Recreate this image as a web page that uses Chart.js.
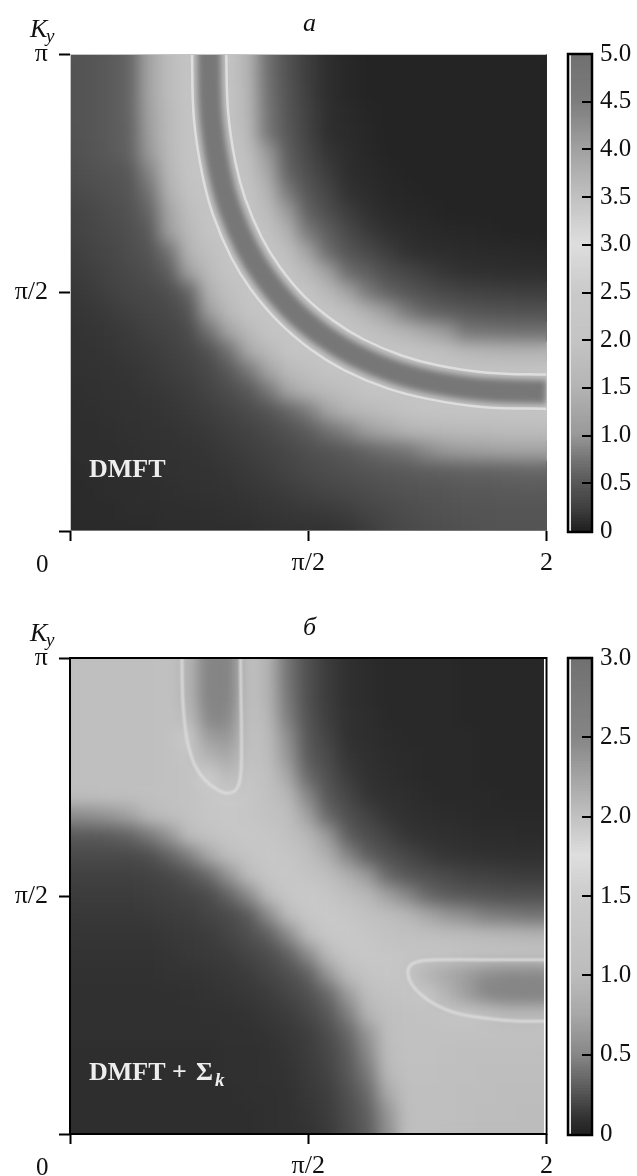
<!DOCTYPE html>
<html>
<head>
<meta charset="utf-8">
<script src="https://cdn.jsdelivr.net/npm/chart.js@4/dist/chart.umd.min.js"></script>
<style>
    body { margin: 0; background: #fff; }
    canvas { position: absolute; }
</style>
</head>
<body>
<canvas id="heatA" style="left:0;top:0" width="560" height="600"></canvas>
<canvas id="barA" style="left:560px;top:0" width="77" height="600"></canvas>
<canvas id="heatB" style="left:0;top:600px" width="560" height="576"></canvas>
<canvas id="barB" style="left:560px;top:600px" width="77" height="576"></canvas>
<script>
// colour scales (value -> grey level)
const scaleValuesA = [0, 0.1, 0.25, 0.5, 0.75, 1, 1.5, 2, 2.5, 3, 3.5, 4, 4.5, 5];
const scaleGreysA = [32, 46, 66, 88, 118, 153, 180, 196, 202, 222, 192, 160, 124, 112];
const scaleValuesB = [0, 0.1, 0.25, 0.5, 0.75, 1, 1.5, 1.75, 2, 2.5, 3];
const scaleGreysB = [34, 51, 85, 136, 168, 188, 204, 222, 192, 133, 112];

const xTickLabels = ['', 'π/2', '2'];
const yTickLabels = ['', 'π/2', 'π'];
const barTicksA = ['0', '0.5', '1.0', '1.5', '2.0', '2.5', '3.0', '3.5', '4.0', '4.5', '5.0'];
const barTicksB = ['0', '0.5', '1.0', '1.5', '2.0', '2.5', '3.0'];

// spectral weight, rows from Ky = π down to Ky = 0, columns Kx = 0 to the right edge
const weightA = [
    [.44,.47,.52,.6,1.2,1.75,2,2,2,1.5,.7,.43,.22,.1,.06,.03,.03,.03,.03,.03,.03,.03,.03,.03,.03],
    [.44,.47,.52,.6,1.2,1.75,2,2,2,1.5,.7,.43,.22,.1,.06,.03,.03,.03,.03,.03,.03,.03,.03,.03,.03],
    [.44,.47,.52,.6,1.2,1.75,2,2,2,1.55,.72,.45,.23,.1,.06,.03,.03,.03,.03,.03,.03,.03,.03,.03,.03],
    [.44,.47,.52,.6,1.15,1.7,2,2,2,1.6,.75,.47,.25,.11,.07,.04,.03,.03,.03,.03,.03,.03,.03,.03,.03],
    [.43,.47,.52,.58,1.1,1.7,2,2,2,1.7,.75,.5,.26,.11,.08,.05,.03,.03,.03,.03,.03,.03,.03,.03,.03],
    [.41,.46,.51,.58,1,1.65,2,2,2,1.85,1,.54,.32,.15,.09,.06,.03,.03,.03,.03,.03,.03,.03,.03,.03],
    [.38,.42,.46,.5,.85,1.6,2,2,2,1.95,1.25,.6,.39,.21,.1,.07,.05,.03,.03,.03,.03,.03,.03,.03,.03],
    [.33,.37,.42,.47,.72,1.45,1.95,2,2,2,1.5,.78,.48,.29,.13,.09,.06,.04,.03,.03,.03,.03,.03,.03,.03],
    [.27,.31,.37,.43,.6,1.2,1.8,2,2,2,1.75,1.05,.58,.39,.22,.12,.08,.06,.05,.03,.03,.03,.03,.03,.03],
    [.25,.29,.34,.4,.52,1.1,1.65,2,2,2,1.95,1.45,.78,.55,.34,.2,.12,.09,.07,.06,.05,.04,.03,.03,.03],
    [.22,.26,.31,.38,.46,.72,1.5,1.85,2,2,2,1.8,1.2,.67,.48,.34,.22,.13,.1,.09,.08,.07,.07,.06,.06],
    [.2,.23,.27,.33,.4,.55,1.15,1.7,2,2,2,2,1.65,1.15,.67,.55,.39,.29,.21,.15,.12,.11,.1,.1,.1],
    [.17,.2,.24,.29,.33,.4,.6,1.45,1.85,2,2,2,2,1.65,1.2,.78,.58,.48,.39,.32,.26,.24,.23,.22,.22],
    [.15,.17,.2,.24,.28,.33,.45,1.1,1.65,2,2,2,2,2,1.85,1.45,1.05,.78,.6,.54,.5,.46,.44,.43,.43],
    [.14,.15,.17,.2,.24,.27,.35,.7,1.2,1.65,2,2,2,2,2,1.95,1.75,1.5,1.25,1,.75,.73,.71,.7,.7],
    [.13,.14,.15,.18,.2,.24,.3,.42,.7,1.3,1.65,2,2,2,2,2,2,2,1.95,1.85,1.65,1.55,1.5,1.5,1.5],
    [.12,.13,.14,.15,.18,.21,.25,.33,.5,.75,1.2,1.65,1.85,2,2,2,2,2,2,2,2,2,2,2,2],
    [.11,.12,.13,.14,.16,.18,.21,.27,.36,.5,.75,1.2,1.5,1.7,1.85,2,2,2,2,2,2,2,2,2,2],
    [.1,.11,.12,.13,.14,.16,.18,.22,.27,.35,.46,.6,.8,1.2,1.5,1.65,1.8,1.95,2,2,2,2,2,2,2],
    [.1,.1,.11,.12,.13,.14,.16,.18,.22,.26,.33,.42,.53,.7,.85,1.1,1.3,1.5,1.6,1.65,1.7,1.7,1.75,1.75,1.75],
    [.09,.1,.1,.11,.12,.13,.14,.16,.19,.22,.26,.32,.4,.46,.52,.6,.68,.75,.9,1,1.1,1.15,1.2,1.2,1.2],
    [.08,.09,.09,.1,.11,.12,.13,.14,.16,.19,.22,.27,.33,.38,.42,.46,.5,.52,.55,.56,.58,.58,.6,.62,.62],
    [.08,.08,.09,.09,.1,.11,.12,.13,.14,.16,.18,.21,.25,.29,.33,.37,.41,.44,.46,.48,.5,.5,.52,.52,.52],
    [.07,.08,.08,.09,.09,.1,.1,.11,.12,.13,.15,.17,.18,.2,.23,.28,.33,.38,.41,.43,.45,.46,.47,.47,.47],
    [.07,.07,.08,.08,.08,.09,.09,.1,.1,.11,.12,.13,.13,.13,.15,.21,.28,.33,.37,.4,.42,.44,.46,.46,.46]
];
const weightB = [
    [1.1,1.1,1.1,1.1,1.1,1.15,2.1,2.5,2.55,1.15,.9,.4,.23,.14,.08,.06,.04,.04,.04,.04,.03,.03,.03,.03,.03],
    [1.1,1.1,1.1,1.1,1.1,1.15,2.1,2.5,2.55,1.15,.9,.4,.23,.14,.08,.06,.04,.04,.04,.04,.03,.03,.03,.03,.03],
    [1.1,1.1,1.1,1.1,1.1,1.15,2.1,2.5,2.55,1.15,.9,.42,.23,.14,.08,.06,.04,.04,.04,.04,.03,.03,.03,.03,.03],
    [1.1,1.1,1.1,1.1,1.1,1.15,2.05,2.42,2.45,1.15,.95,.45,.24,.15,.09,.07,.04,.04,.04,.04,.03,.03,.03,.03,.03],
    [1.1,1.1,1.1,1.1,1.1,1.15,1.4,2.3,2.35,1.15,1,.55,.26,.17,.09,.07,.05,.04,.04,.04,.04,.03,.03,.03,.03],
    [1.1,1.1,1.1,1.1,1.1,1.15,1.25,2.1,2.2,1.2,1.05,.62,.28,.2,.11,.08,.06,.05,.04,.04,.04,.03,.03,.03,.03],
    [1.08,1.08,1.08,1.1,1.1,1.15,1.2,1.5,2.05,1.25,1.12,.75,.35,.23,.14,.09,.07,.05,.04,.04,.04,.03,.03,.03,.03],
    [1.05,1.05,1.08,1.1,1.12,1.15,1.2,1.3,1.4,1.3,1.15,.95,.5,.26,.19,.11,.08,.07,.05,.04,.04,.04,.03,.03,.03],
    [.52,.55,.6,.7,.95,1.1,1.2,1.3,1.35,1.3,1.2,1.1,.7,.35,.23,.17,.11,.08,.07,.06,.05,.04,.04,.04,.04],
    [.27,.27,.28,.32,.42,.6,1,1.2,1.3,1.35,1.3,1.15,.95,.65,.3,.22,.17,.11,.09,.08,.07,.06,.06,.05,.05],
    [.2,.2,.2,.2,.22,.32,.45,.75,1.05,1.25,1.35,1.3,1.1,.85,.5,.3,.23,.19,.14,.11,.1,.09,.08,.08,.08],
    [.16,.16,.16,.16,.17,.19,.24,.35,.6,1,1.3,1.35,1.25,1.1,.85,.65,.35,.26,.23,.2,.17,.16,.15,.14,.14],
    [.14,.14,.14,.14,.15,.16,.18,.2,.32,.52,1,1.3,1.4,1.3,1.1,.95,.7,.5,.35,.28,.26,.24,.23,.23,.23],
    [.12,.12,.12,.12,.13,.14,.15,.18,.2,.27,.52,1,1.35,1.4,1.3,1.15,1.05,.95,.75,.62,.55,.45,.43,.4,.4],
    [.11,.11,.11,.11,.11,.12,.13,.14,.18,.22,.3,.52,1,1.35,1.4,1.3,1.2,1.15,1.12,1.05,1,.97,.95,.92,.9],
    [.1,.1,.1,.1,.1,.11,.12,.13,.14,.18,.21,.3,.52,.98,1.3,1.35,1.3,1.25,1.25,1.25,1.2,1.2,1.2,1.2,1.2],
    [.09,.09,.09,.09,.09,.1,.1,.11,.12,.14,.18,.22,.3,.6,1,1.25,1.3,1.25,2.1,2.2,2.3,2.4,2.45,2.45,2.45],
    [.08,.08,.08,.08,.08,.08,.09,.1,.11,.12,.14,.18,.23,.34,.65,1.05,1.2,1.25,1.3,2.1,2.3,2.4,2.5,2.5,2.5],
    [.08,.08,.08,.08,.08,.08,.08,.09,.09,.1,.12,.14,.19,.26,.45,.9,1.1,1.15,1.2,1.25,1.95,2,2.05,2.05,2.05],
    [.08,.08,.08,.08,.08,.08,.08,.08,.09,.09,.1,.12,.15,.21,.33,.6,1.05,1.15,1.15,1.15,1.15,1.15,1.15,1.15,1.15],
    [.07,.07,.07,.07,.07,.07,.07,.07,.08,.08,.09,.11,.14,.19,.28,.5,1,1.15,1.15,1.12,1.1,1.1,1.08,1.08,1.05],
    [.07,.07,.07,.07,.07,.07,.07,.07,.08,.08,.09,.1,.13,.17,.26,.42,.95,1.12,1.12,1.1,1.08,1.05,1.05,1.05,1.05],
    [.07,.07,.07,.07,.07,.07,.07,.07,.07,.08,.08,.09,.12,.15,.23,.35,.75,1.1,1.1,1.08,1.05,1.05,1.02,1.02,1.02],
    [.07,.07,.07,.07,.07,.07,.07,.07,.07,.07,.08,.09,.11,.14,.21,.3,.6,1.05,1.1,1.08,1.05,1.02,1.02,1,1],
    [.07,.07,.07,.07,.07,.07,.07,.07,.07,.07,.08,.09,.1,.13,.2,.28,.55,1.05,1.08,1.05,1.02,1,1,1,1]
];

// ridges, in fractions of the axis range
const bandKx = [.292,.292,.296,.312,.334,.370,.410,.465,.530,.595,.679,.762,.870,1,1.04];
const bandKy = [1.04,1,.870,.762,.679,.595,.530,.465,.410,.370,.334,.312,.296,.292,.292];
const innerKx = [.328,.328,.332,.347,.368,.402,.440,.492,.554,.616,.696,.774,.877,1,1.04];
const innerKy = [1.04,1,.877,.774,.696,.616,.554,.492,.440,.402,.368,.347,.332,.328,.328];
const outerKx = [.256,.256,.260,.277,.300,.338,.380,.438,.506,.574,.663,.750,.864,1,1.04];
const outerKy = [1.04,1,.864,.750,.663,.574,.506,.438,.380,.338,.300,.277,.260,.256,.256];
const pocketTopKx = [.235,.235,.236,.239,.247,.262,.283,.310,.331,.350,.358,.360,.359,.358,.358];
const pocketTopKy = [1.04,1,.933,.880,.821,.775,.744,.723,.716,.725,.754,.817,.910,1,1.04];
const pocketRightKx = [1.04,1,.901,.776,.734,.715,.709,.717,.738,.765,.811,.881,.943,1,1.04];
const pocketRightKy = [.366,.366,.366,.366,.363,.355,.338,.315,.292,.273,.254,.242,.237,.237,.237];
const coreTopKx = [.307,.307,.308];
const coreTopKy = [1.04,.94,.86];
const coreRightKx = [1.04,.94,.86];
const coreRightKy = [.307,.307,.308];

function greyOf(value, values, greys) {
    let i = 1;
    while (i < values.length - 1 && value > values[i]) i++;
    let t = Math.min(1, Math.max(0, (value - values[i - 1]) / (values[i] - values[i - 1])));
    let g = Math.round(greys[i - 1] + t * (greys[i] - greys[i - 1]));
    return `rgb(${g},${g},${g})`;
}

// blurs the drawn cells into a smooth surface, softens the ridge lines
const softLayer = {
    id: 'softLayer',
    beforeDatasetDraw(chart, args) {
        let soft = chart.data.datasets[args.index].lineSoft;
        if (soft) chart.ctx.filter = `blur(${soft}px)`;
    },
    afterDatasetDraw(chart, args) {
        let ctx = chart.ctx;
        let area = chart.chartArea;
        ctx.filter = 'none';
        if (!chart.data.datasets[args.index].cellSoft) return;
        ctx.save();
        ctx.beginPath();
        ctx.rect(area.left, area.top, area.right - area.left, area.bottom - area.top);
        ctx.clip();
        ctx.filter = `blur(${chart.data.datasets[args.index].cellSoft}px)`;
        ctx.drawImage(chart.canvas, 0, 0, chart.width, chart.height);
        ctx.restore();
        ctx.clearRect(0, 0, chart.width, area.top);
        ctx.clearRect(0, area.bottom, chart.width, chart.height - area.bottom);
        ctx.clearRect(0, 0, area.left, chart.height);
        ctx.clearRect(area.right, 0, chart.width - area.right, chart.height);
    }
};

// frame round the plot and the free text
const notes = {
    id: 'notes',
    afterDraw(chart, args, opts) {
        let ctx = chart.ctx;
        let a = chart.chartArea;
        ctx.save();
        if (opts.black) {
            ctx.strokeStyle = '#000';
            ctx.lineWidth = 2;
            ctx.strokeRect(a.left, a.top, a.right - a.left, a.bottom - a.top);
            ctx.fillStyle = '#fff';
            ctx.fillRect(a.right - 2.5, a.top + 1, 1.5, a.bottom - a.top - 2);
        } else {
            ctx.fillStyle = '#c4c4c4';
            ctx.fillRect(a.left, a.top, a.right - a.left, 1);
            ctx.fillRect(a.left, a.top, 1, a.bottom - a.top);
            ctx.fillStyle = '#777';
            ctx.fillRect(a.left, a.bottom - 1, a.right - a.left, 1);
        }
        ctx.textBaseline = 'alphabetic';
        opts.texts.forEach(t => {
            ctx.font = t[3];
            ctx.fillStyle = t[4] || '#111';
            ctx.fillText(t[0], t[1], t[2]);
        });
        ctx.restore();
    }
};

// inward tick marks and frame of a colour bar
const barFrame = {
    id: 'barFrame',
    afterDatasetsDraw(chart) {
        let ctx = chart.ctx;
        let a = chart.chartArea;
        let y = chart.scales.y;
        ctx.save();
        ctx.fillStyle = '#e6e6e6';
        ctx.fillRect(a.left, a.top, 2, a.bottom - a.top);
        ctx.fillStyle = '#000';
        y.ticks.forEach(t => {
            if (t.value > y.min && t.value < y.max) {
                ctx.fillRect(a.right - 9, Math.round(y.getPixelForValue(t.value)) - 1, 9, 2);
            }
        });
        ctx.strokeStyle = '#000';
        ctx.lineWidth = 2.5;
        ctx.strokeRect(a.left - 1, a.top, a.right - a.left + 2, a.bottom - a.top + 1);
        ctx.restore();
    }
};

function ridge(xs, ys, value, values, greys, width, soft, order) {
    return {
        data: xs.map((x, i) => ({ x: x, y: ys[i] })),
        showLine: true,
        tension: 0.4,
        pointRadius: 0,
        borderColor: greyOf(value, values, greys),
        borderWidth: width,
        lineSoft: soft,
        order: order
    };
}

function heatChart(id, top, bottomPad, weights, values, greys, lines, opts) {
    let cells = [];
    let colours = [];
    weights.forEach((row, r) => row.forEach((v, c) => {
        cells.push({ x: c / (row.length - 1), y: 1 - r / (weights.length - 1) });
        colours.push(greyOf(v, values, greys));
    }));
    let serif = { family: '"Liberation Serif"', size: 26 };
    return new Chart(document.getElementById(id), {
        type: 'scatter',
        plugins: [softLayer, notes],
        data: {
            datasets: lines.concat([{
                data: cells,
                pointStyle: 'rect',
                pointRadius: 15,
                pointBorderWidth: 0,
                pointBackgroundColor: colours,
                clip: false,
                cellSoft: 8,
                order: 9
            }])
        },
        options: {
            responsive: false,
            animation: false,
            events: [],
            layout: { autoPadding: false, padding: { top: top, right: 13, bottom: 0, left: 0 } },
            plugins: { legend: { display: false }, tooltip: { enabled: false }, notes: opts },
            scales: {
                x: {
                    type: 'linear', min: 0, max: 1,
                    afterFit: s => { s.height = bottomPad; },
                    border: { display: false },
                    grid: { z: 1, drawOnChartArea: false, color: '#000', tickColor: '#000', tickLength: 10, tickWidth: 2 },
                    ticks: { z: 1, stepSize: 0.5, maxRotation: 0, padding: 7, color: '#111', font: serif,
                        callback: (v, i) => xTickLabels[i] }
                },
                y: {
                    type: 'linear', min: 0, max: 1,
                    afterFit: s => { s.width = 70; },
                    border: { display: false },
                    grid: { z: 1, drawOnChartArea: false, color: '#000', tickColor: '#000', tickLength: 11, tickWidth: 2 },
                    ticks: { z: 1, stepSize: 0.5, padding: 11, color: '#111', font: serif,
                        callback: (v, i) => yTickLabels[i] }
                }
            }
        }
    });
}

function barChart(id, top, bottomPad, max, step, labels, values, greys) {
    let levels = 160;
    let sets = [];
    for (let i = 0; i < levels; i++) {
        let lo = max * i / levels;
        let hi = max * (i + 1.3) / levels;
        sets.push({
            data: [[lo, Math.min(hi, max)]],
            backgroundColor: greyOf(max * (i + 0.5) / levels, values, greys),
            barPercentage: 1,
            categoryPercentage: 1,
            grouped: false
        });
    }
    return new Chart(document.getElementById(id), {
        type: 'bar',
        plugins: [barFrame],
        data: { labels: ['w'], datasets: sets },
        options: {
            responsive: false,
            animation: false,
            events: [],
            layout: { padding: { top: top, right: 0, bottom: bottomPad, left: 9 } },
            plugins: { legend: { display: false }, tooltip: { enabled: false } },
            scales: {
                x: { display: false },
                y: {
                    position: 'right', min: 0, max: max,
                    afterFit: s => { s.width = 46; },
                    border: { display: false },
                    grid: { display: false, drawTicks: false },
                    ticks: { stepSize: step, padding: 9, color: '#111', autoSkip: false,
                        font: { family: '"Liberation Serif"', size: 25 },
                        callback: (v, i) => labels[i] }
                }
            }
        }
    });
}

const italic = 'italic 26px "Liberation Serif"';
const subY = 'italic 19px "Liberation Serif"';
const tick = '25px "Liberation Serif"';
const boldW = 'bold 26px "Liberation Serif"';

heatChart('heatA', 54, 69, weightA, scaleValuesA, scaleGreysA, [
    ridge(innerKx, innerKy, 3, scaleValuesA, scaleGreysA, 2.5, 0.6, 1),
    ridge(outerKx, outerKy, 3, scaleValuesA, scaleGreysA, 2.5, 0.6, 1),
    ridge(bandKx, bandKy, 4.7, scaleValuesA, scaleGreysA, 24, 3, 2)
], {
    black: false,
    texts: [
        ['K', 30, 37, italic], ['y', 46, 42, subY],
        ['а', 303, 31, italic],
        ['0', 36, 572, tick],
        ['DMFT', 89, 477, boldW, '#eee']
    ]
});
barChart('barA', 54, 69, 5, 0.5, barTicksA, scaleValuesA, scaleGreysA);

heatChart('heatB', 58, 42, weightB, scaleValuesB, scaleGreysB, [
    ridge(pocketTopKx, pocketTopKy, 1.75, scaleValuesB, scaleGreysB, 2.5, 0.8, 1),
    ridge(pocketRightKx, pocketRightKy, 1.75, scaleValuesB, scaleGreysB, 2.5, 0.8, 1),
    ridge(coreTopKx, coreTopKy, 2.5, scaleValuesB, scaleGreysB, 14, 7, 2),
    ridge(coreRightKx, coreRightKy, 2.5, scaleValuesB, scaleGreysB, 14, 7, 2)
], {
    black: true,
    texts: [
        ['K', 30, 41, italic], ['y', 46, 46, subY],
        ['б', 303, 35, italic],
        ['0', 36, 575, tick],
        ['DMFT', 89, 480, boldW, '#eee'],
        ['+', 172, 480, boldW, '#eee'],
        ['Σ', 196, 480, boldW, '#eee'],
        ['k', 215, 486, 'italic bold 19px "Liberation Serif"', '#eee']
    ]
});
barChart('barB', 58, 42, 3, 0.5, barTicksB, scaleValuesB, scaleGreysB);
</script>
</body>
</html>
